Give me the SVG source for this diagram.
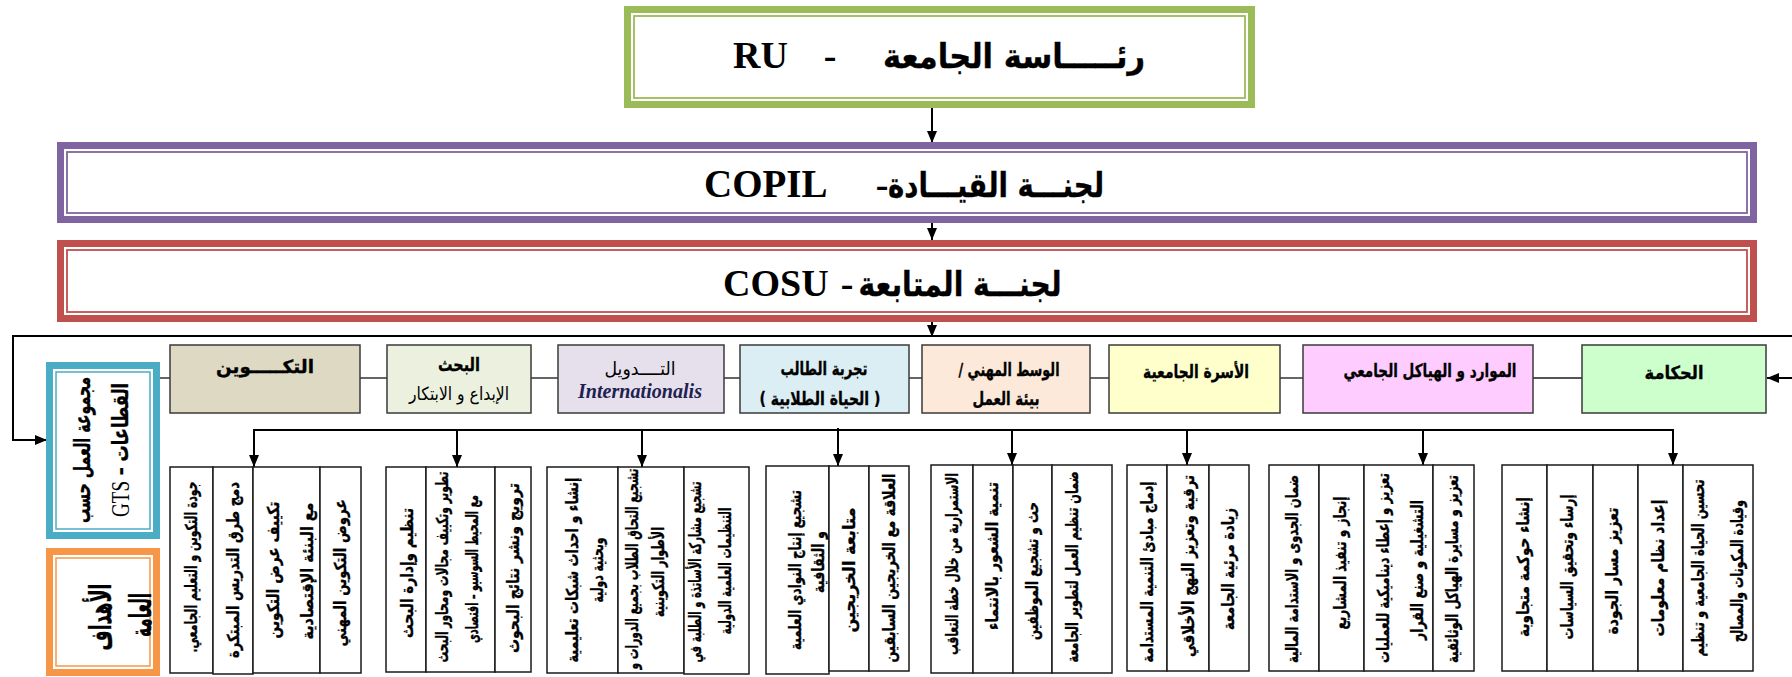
<svg xmlns="http://www.w3.org/2000/svg" width="1792" height="677" viewBox="0 0 1792 677">
<defs>
<style>
.ar{font-family:"DejaVu Sans","Liberation Sans",sans-serif;font-weight:bold;fill:#000;stroke:#000;stroke-width:0.35;direction:rtl}
.arn{font-family:"DejaVu Sans","Liberation Sans",sans-serif;font-weight:normal;fill:#000;direction:rtl}
.lat{font-family:"Liberation Serif","Times New Roman",serif;font-weight:bold;fill:#000}
.col{fill:#fff;stroke:#1a1a1a;stroke-width:1.5}
.cat{stroke:#3a3a3a;stroke-width:1.5}
.ln{stroke:#555;stroke-width:1.8;fill:none}
.arr{stroke:#000;stroke-width:2;fill:none}
.v{font-size:16.5px;text-anchor:middle;dominant-baseline:central}
.ct{font-size:18px;text-anchor:middle;dominant-baseline:central}
.mid{text-anchor:middle}
</style>
<marker id="ah" viewBox="0 0 12 10" refX="12" refY="5" markerWidth="12" markerHeight="10" markerUnits="userSpaceOnUse" orient="auto"><path d="M0,0L12,5L0,10z" fill="#000"/></marker>
</defs>
<rect width="1792" height="677" fill="#fff"/>

<g id="connectors">
<line class="arr" x1="932" y1="108" x2="932" y2="143" marker-end="url(#ah)"/>
<line class="arr" x1="932" y1="223" x2="932" y2="240" marker-end="url(#ah)"/>
<line class="arr" x1="932" y1="322" x2="932" y2="337" marker-end="url(#ah)"/>
<polyline class="arr" points="1792,336 13,336 13,440 47,440" marker-end="url(#ah)"/>
<line class="arr" x1="1792" y1="378" x2="1767" y2="378" marker-end="url(#ah)"/>
<line class="ln" x1="160" y1="378" x2="170" y2="378"/>
<line class="ln" x1="360" y1="378" x2="387" y2="378"/>
<line class="ln" x1="531" y1="378" x2="558" y2="378"/>
<line class="ln" x1="724" y1="378" x2="740" y2="378"/>
<line class="ln" x1="909" y1="378" x2="922" y2="378"/>
<line class="ln" x1="1090" y1="378" x2="1109" y2="378"/>
<line class="ln" x1="1280" y1="378" x2="1303" y2="378"/>
<line class="ln" x1="1533" y1="378" x2="1582" y2="378"/>
<line class="arr" x1="253" y1="430" x2="1674" y2="430"/>
<line class="arr" x1="254" y1="430" x2="254" y2="467" marker-end="url(#ah)"/>
<line class="arr" x1="457" y1="430" x2="457" y2="467" marker-end="url(#ah)"/>
<line class="arr" x1="642" y1="430" x2="642" y2="467" marker-end="url(#ah)"/>
<line class="arr" x1="838" y1="428" x2="838" y2="466" marker-end="url(#ah)"/>
<line class="arr" x1="1012" y1="430" x2="1012" y2="465" marker-end="url(#ah)"/>
<line class="arr" x1="1187" y1="430" x2="1187" y2="465" marker-end="url(#ah)"/>
<line class="arr" x1="1423" y1="430" x2="1423" y2="465" marker-end="url(#ah)"/>
<line class="arr" x1="1673" y1="430" x2="1673" y2="465" marker-end="url(#ah)"/>
</g>

<g id="ru">
<rect x="624" y="6" width="631" height="102" fill="#fff"/>
<rect x="627.5" y="9.5" width="624" height="95" fill="none" stroke="#9BBB59" stroke-width="7"/>
<rect x="634" y="16" width="611" height="82" fill="none" stroke="#9BBB59" stroke-width="1.8"/>
<text class="lat" x="733" y="68" font-size="38">RU</text>
<text class="lat mid" x="830" y="68" font-size="38">-</text>
<text class="ar mid" x="1014" y="68" font-size="34" textLength="262" lengthAdjust="spacingAndGlyphs">رئـــــاسة الجامعة</text>
</g>

<g id="copil">
<rect x="57" y="142" width="1700" height="81" fill="#fff"/>
<rect x="60.5" y="145.5" width="1693" height="74" fill="none" stroke="#8064A2" stroke-width="7"/>
<rect x="67" y="152" width="1680" height="61" fill="none" stroke="#8064A2" stroke-width="1.8"/>
<text class="lat" x="704" y="197" font-size="39">COPIL</text>
<text class="lat mid" x="882" y="197" font-size="38">-</text>
<text class="ar mid" x="996" y="197" font-size="34" textLength="216" lengthAdjust="spacingAndGlyphs">لجنـــة القيـــادة</text>
</g>

<g id="cosu">
<rect x="57" y="240" width="1700" height="82" fill="#fff"/>
<rect x="60.5" y="243.5" width="1693" height="75" fill="none" stroke="#C0504D" stroke-width="7"/>
<rect x="67" y="250" width="1680" height="62" fill="none" stroke="#C0504D" stroke-width="1.8"/>
<text class="lat" x="723" y="296" font-size="38">COSU</text>
<text class="lat mid" x="847" y="296" font-size="38">-</text>
<text class="ar mid" x="960" y="296" font-size="34" textLength="203" lengthAdjust="spacingAndGlyphs">لجنـــة المتابعة</text>
</g>

<g id="gts">
<rect x="46" y="362" width="114" height="177" fill="#fff"/>
<rect x="49.5" y="365.5" width="107" height="170" fill="none" stroke="#4BACC6" stroke-width="7"/>
<rect x="56" y="372" width="94" height="157" fill="none" stroke="#4BACC6" stroke-width="1.5"/>
<text class="ar" font-size="22" text-anchor="middle" dominant-baseline="central" transform="translate(82,450) rotate(-90)" textLength="146" lengthAdjust="spacingAndGlyphs">مجموعة العمل حسب</text>
<text class="ar" font-size="22" text-anchor="middle" dominant-baseline="central" transform="translate(120,450) rotate(-90)" textLength="134" lengthAdjust="spacingAndGlyphs">القطاعات – <tspan font-family="Liberation Serif, serif" font-weight="normal" font-size="26" stroke-width="0">GTS</tspan></text>
</g>

<g id="objectives">
<rect x="46" y="548" width="114" height="128" fill="#fff"/>
<rect x="49.5" y="551.5" width="107" height="121" fill="none" stroke="#F79646" stroke-width="7"/>
<rect x="56" y="558" width="94" height="108" fill="none" stroke="#F79646" stroke-width="1.5"/>
<text class="ar" font-size="30" text-anchor="middle" dominant-baseline="central" transform="translate(100,617) rotate(-90)" textLength="67" lengthAdjust="spacingAndGlyphs">الأهداف</text>
<text class="ar" font-size="30" text-anchor="middle" dominant-baseline="central" transform="translate(140,615) rotate(-90)" textLength="44" lengthAdjust="spacingAndGlyphs">العامة</text>
</g>

<g id="cat-training">
<rect class="cat" x="170" y="345" width="190" height="68" fill="#DDD9C3"/>
<text class="ar ct" x="265" y="366" font-size="20" textLength="98" lengthAdjust="spacingAndGlyphs">التكـــــوين</text>
</g>
<g id="cat-research">
<rect class="cat" x="387" y="345" width="144" height="68" fill="#EBF1DE"/>
<text class="ar ct" x="459" y="364" font-size="20" textLength="42" lengthAdjust="spacingAndGlyphs">البحث</text>
<text class="arn ct" x="459" y="393" font-size="16" textLength="100" lengthAdjust="spacingAndGlyphs">الإبداع و الابتكار</text>
</g>
<g id="cat-intl">
<rect class="cat" x="558" y="345" width="166" height="68" fill="#E5E0EC"/>
<text class="arn ct" x="640" y="368" textLength="71" lengthAdjust="spacingAndGlyphs">التــــدويل</text>
<text x="640" y="398" font-family="Liberation Serif, serif" font-weight="bold" font-style="italic" font-size="20" fill="#1F2250" text-anchor="middle" textLength="124" lengthAdjust="spacingAndGlyphs">Internationalis</text>
</g>
<g id="cat-student">
<rect class="cat" x="740" y="345" width="169" height="68" fill="#DAEEF3"/>
<text class="ar ct" x="824" y="368" textLength="87" lengthAdjust="spacingAndGlyphs">تجربة الطالب</text>
<text class="ar ct" x="820" y="398" textLength="121" lengthAdjust="spacingAndGlyphs">( الحياة الطلابية )</text>
</g>
<g id="cat-work">
<rect class="cat" x="922" y="345" width="168" height="68" fill="#FDE9D9"/>
<text class="ar ct" x="1009" y="369" textLength="101" lengthAdjust="spacingAndGlyphs">الوسط المهني /</text>
<text class="ar ct" x="1006" y="398" textLength="67" lengthAdjust="spacingAndGlyphs">بيئة العمل</text>
</g>
<g id="cat-family">
<rect class="cat" x="1109" y="345" width="171" height="68" fill="#FFFFCC"/>
<text class="ar ct" x="1196" y="371" textLength="106" lengthAdjust="spacingAndGlyphs">الأسرة الجامعية</text>
</g>
<g id="cat-resources">
<rect class="cat" x="1303" y="345" width="230" height="68" fill="#FFCCFF"/>
<text class="ar ct" x="1430" y="370" textLength="173" lengthAdjust="spacingAndGlyphs">الموارد و الهياكل الجامعي</text>
</g>
<g id="cat-governance">
<rect class="cat" x="1582" y="345" width="184" height="68" fill="#CCFFCC"/>
<text class="ar ct" x="1674" y="372" textLength="59" lengthAdjust="spacingAndGlyphs">الحكامة</text>
</g>

<g id="goals-training">
<rect class="col" x="170" y="467" width="43" height="206"/>
<rect class="col" x="213" y="467" width="40" height="207"/>
<rect class="col" x="253" y="467" width="67" height="206"/>
<rect class="col" x="320" y="467" width="41" height="206"/>
<text class="ar v" transform="translate(191,567) rotate(-90)" textLength="171" lengthAdjust="spacingAndGlyphs">جودة التكوين و التعليم الجامعي.</text>
<text class="ar v" transform="translate(233,570) rotate(-90)" textLength="176" lengthAdjust="spacingAndGlyphs">دمج طرق التدريس المبتكرة</text>
<text class="ar v" transform="translate(273,570) rotate(-90)" textLength="137" lengthAdjust="spacingAndGlyphs">تكييف عرض التكوين</text>
<text class="ar v" transform="translate(307,571) rotate(-90)" textLength="137" lengthAdjust="spacingAndGlyphs">مع البنئة الإقتصادية</text>
<text class="ar v" transform="translate(340,573) rotate(-90)" textLength="147" lengthAdjust="spacingAndGlyphs">عروض التكوين المهني</text>
</g>

<g id="goals-research">
<rect class="col" x="386" y="467" width="40" height="205"/>
<rect class="col" x="426" y="467" width="69" height="205"/>
<rect class="col" x="495" y="467" width="36" height="205"/>
<text class="ar v" transform="translate(407,573) rotate(-90)" textLength="130" lengthAdjust="spacingAndGlyphs">تنظيم وإدارة البحث</text>
<text class="ar v" transform="translate(442,567) rotate(-90)" textLength="191" lengthAdjust="spacingAndGlyphs">تطوير وتكييف مجالات ومحاور البحث</text>
<text class="ar v" transform="translate(472,569) rotate(-90)" textLength="148" lengthAdjust="spacingAndGlyphs">مع المحيط السوسيو – اقتصادي</text>
<text class="ar v" transform="translate(513,568) rotate(-90)" textLength="170" lengthAdjust="spacingAndGlyphs">ترويج ونشر نتائج البحوث</text>
</g>

<g id="goals-intl">
<rect class="col" x="547" y="467" width="71" height="206"/>
<rect class="col" x="618" y="467" width="66" height="206"/>
<rect class="col" x="684" y="467" width="65" height="207"/>
<text class="ar v" transform="translate(572,570) rotate(-90)" textLength="185" lengthAdjust="spacingAndGlyphs">إنشاء و احداث شبكات تعليمية</text>
<text class="ar v" transform="translate(597,570) rotate(-90)" textLength="65" lengthAdjust="spacingAndGlyphs">وبحثية دولية</text>
<text class="ar v" transform="translate(632,569) rotate(-90)" textLength="201" lengthAdjust="spacingAndGlyphs">تشجيع التحاق الطلاب بجميع الدورات و</text>
<text class="ar v" transform="translate(658,572) rotate(-90)" textLength="90" lengthAdjust="spacingAndGlyphs">الأطوار التكوينية</text>
<text class="ar v" transform="translate(695,572) rotate(-90)" textLength="181" lengthAdjust="spacingAndGlyphs">تشجيع مشاركة الأساتذة و الطلبة في</text>
<text class="ar v" transform="translate(725,571) rotate(-90)" textLength="127" lengthAdjust="spacingAndGlyphs">التنظيمات العلمية الدولية</text>
</g>

<g id="goals-student">
<rect class="col" x="766" y="466" width="63" height="208"/>
<rect class="col" x="829" y="466" width="40" height="205"/>
<rect class="col" x="869" y="466" width="40" height="205"/>
<text class="ar v" transform="translate(795,570) rotate(-90)" textLength="160" lengthAdjust="spacingAndGlyphs">تشجيع إنتاج النوادي العلمية</text>
<text class="ar v" transform="translate(818,562) rotate(-90)" textLength="62" lengthAdjust="spacingAndGlyphs">و الثقافية</text>
<text class="ar v" transform="translate(849,570) rotate(-90)" textLength="125" lengthAdjust="spacingAndGlyphs">متابعة الخريجين</text>
<text class="ar v" transform="translate(889,568) rotate(-90)" textLength="189" lengthAdjust="spacingAndGlyphs">العلاقة مع الخريجين السابقين</text>
</g>

<g id="goals-work">
<rect class="col" x="931" y="465" width="42" height="208"/>
<rect class="col" x="973" y="465" width="40" height="208"/>
<rect class="col" x="1013" y="465" width="39" height="208"/>
<rect class="col" x="1052" y="465" width="60" height="208"/>
<text class="ar v" transform="translate(952,564) rotate(-90)" textLength="182" lengthAdjust="spacingAndGlyphs">الاستمرارية من خلال خطة التعاقب</text>
<text class="ar v" transform="translate(992,556) rotate(-90)" textLength="148" lengthAdjust="spacingAndGlyphs">تنمية الشعور بالانتماء</text>
<text class="ar v" transform="translate(1032,571) rotate(-90)" textLength="138" lengthAdjust="spacingAndGlyphs">حث و تشجيع الموظفين</text>
<text class="ar v" transform="translate(1072,567) rotate(-90)" textLength="191" lengthAdjust="spacingAndGlyphs">ضمان تنظيم العمل لتطوير الجامعة</text>
</g>

<g id="goals-family">
<rect class="col" x="1127" y="465" width="40" height="206"/>
<rect class="col" x="1167" y="465" width="42" height="206"/>
<rect class="col" x="1209" y="465" width="40" height="206"/>
<text class="ar v" transform="translate(1147,572) rotate(-90)" textLength="181" lengthAdjust="spacingAndGlyphs">إدماج مبادئ التنمية المستدامة</text>
<text class="ar v" transform="translate(1188,566) rotate(-90)" textLength="182" lengthAdjust="spacingAndGlyphs">ترقية وتعزيز النهج الأخلاقي</text>
<text class="ar v" transform="translate(1228,569) rotate(-90)" textLength="122" lengthAdjust="spacingAndGlyphs">زيادة مرئية الجامعة</text>
</g>

<g id="goals-resources">
<rect class="col" x="1269" y="465" width="50" height="206"/>
<rect class="col" x="1319" y="465" width="45" height="206"/>
<rect class="col" x="1364" y="465" width="69" height="206"/>
<rect class="col" x="1433" y="465" width="41" height="206"/>
<text class="ar v" transform="translate(1292,569) rotate(-90)" textLength="188" lengthAdjust="spacingAndGlyphs">ضمان الجدوى و الاستدامة المالية</text>
<text class="ar v" transform="translate(1340,563) rotate(-90)" textLength="133" lengthAdjust="spacingAndGlyphs">إنجاز و تنفيذ المشاريع</text>
<text class="ar v" transform="translate(1383,568) rotate(-90)" textLength="190" lengthAdjust="spacingAndGlyphs">تعزيز و إعطاء ديناميكية للعمليات</text>
<text class="ar v" transform="translate(1417,570) rotate(-90)" textLength="140" lengthAdjust="spacingAndGlyphs">التشغيلية و صنع القرار</text>
<text class="ar v" transform="translate(1452,569) rotate(-90)" textLength="188" lengthAdjust="spacingAndGlyphs">تعزيز و مسايرة الهياكل الوثائقية</text>
</g>

<g id="goals-governance">
<rect class="col" x="1502" y="465" width="45" height="206"/>
<rect class="col" x="1547" y="465" width="46" height="206"/>
<rect class="col" x="1593" y="465" width="45" height="206"/>
<rect class="col" x="1638" y="465" width="45" height="206"/>
<rect class="col" x="1683" y="465" width="70" height="206"/>
<text class="ar v" transform="translate(1523,567) rotate(-90)" textLength="140" lengthAdjust="spacingAndGlyphs">إنشاء حوكمة متجاوبة</text>
<text class="ar v" transform="translate(1567,567) rotate(-90)" textLength="145" lengthAdjust="spacingAndGlyphs">إرساء وتحقيق السياسات</text>
<text class="ar v" transform="translate(1612,571) rotate(-90)" textLength="127" lengthAdjust="spacingAndGlyphs">تعزيز مسار الجودة</text>
<text class="ar v" transform="translate(1658,568) rotate(-90)" textLength="137" lengthAdjust="spacingAndGlyphs">إعداد نظام معلومات</text>
<text class="ar v" transform="translate(1698,568) rotate(-90)" textLength="177" lengthAdjust="spacingAndGlyphs">تحسين الحياة الجامعية و تنظيم</text>
<text class="ar v" transform="translate(1737,571) rotate(-90)" textLength="142" lengthAdjust="spacingAndGlyphs">وقيادة المكونات والمصالح</text>
</g>
</svg>
